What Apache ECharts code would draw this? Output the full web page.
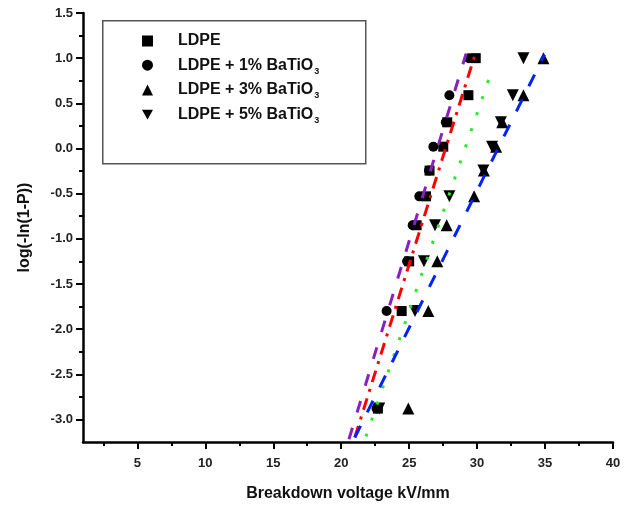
<!DOCTYPE html>
<html>
<head>
<meta charset="utf-8">
<script src="https://cdn.jsdelivr.net/npm/echarts@6/dist/echarts.min.js"></script>
<style>html,body{margin:0;padding:0;background:#fff}#c{width:634px;height:508px}</style>
</head>
<body>
<div id="c"></div>
<script>
// Weibull plot levels log(-ln(1-P))
const yLevels = [-2.88, -1.80, -1.25, -0.85, -0.53, -0.245, 0.02, 0.29, 0.59, 1.00];
// Breakdown voltages (kV/mm) per series
const ldpe  = [22.7, 24.45, 25.0, 25.55, 26.24, 26.5, 27.51, 27.8, 29.36, 29.9];
const bt1   = [22.6, 23.34, 24.85, 25.26, 25.75, 26.46, 26.78, 27.7, 27.96, 29.4];
const bt3   = [24.94, 26.41, 27.07, 27.76, 29.78, 30.5, 31.4, 31.85, 33.41, 34.88];
const bt5   = [22.8, 25.43, 26.09, 26.90, 27.96, 30.46, 31.1, 31.75, 32.63, 33.41];
// Fitted lines (end points)
const fitBt1  = [[20.57, -3.22], [29.19, 1.05]];
const fitLdpe = [[21.0, -3.2], [29.85, 1.04]];
const fitBt5  = [[21.82, -3.19], [31.03, 0.84]];
const fitBt3  = [[21.0, -3.2], [34.96, 1.04]];
// Ticks
const xTicks = [5, 10, 15, 20, 25, 30, 35, 40];
const xMinor = [2.5, 7.5, 12.5, 17.5, 22.5, 27.5, 32.5, 37.5];
const yTicks = [-3.0, -2.5, -2.0, -1.5, -1.0, -0.5, 0.0, 0.5, 1.0, 1.5];
const yMinor = [-2.75, -2.25, -1.75, -1.25, -0.75, -0.25, 0.25, 0.75, 1.25];
const names = ['LDPE', 'LDPE + 1% BaTiO', 'LDPE + 3% BaTiO', 'LDPE + 5% BaTiO'];

const FONT = 'Liberation Sans, Arial, sans-serif';
const pair = arr => arr.map((x, i) => [x, yLevels[i]]);
const downTri = 'path://M0,0L10,0L5,9Z';

const chart = echarts.init(document.getElementById('c'));
const scatterBase = {type: 'scatter', itemStyle: {color: '#000', opacity: 1}, z: 2};
const lineBase = (data, color, dash) => ({
  type: 'line', data: data, symbol: 'none', silent: true, z: 5,
  lineStyle: {color: color, width: 3, type: dash}
});

chart.setOption({
  animation: false,
  backgroundColor: '#fff',
  grid: {left: 83, right: 21, top: 13, bottom: 66},
  graphic: [{
    type: 'rect', left: 102, top: 20, z: 0,
    shape: {width: 263, height: 143},
    style: {fill: '#fff', stroke: '#555', lineWidth: 1.5}
  }],
  legend: {
    orient: 'vertical', left: 142, top: 31, padding: 0,
    itemWidth: 11, itemHeight: 11, itemGap: 3.7,
    itemStyle: {opacity: 1, color: '#000'},
    data: [
      {name: names[0], icon: 'rect'},
      {name: names[1], icon: 'circle'},
      {name: names[2], icon: 'triangle'},
      {name: names[3], icon: downTri}
    ],
    formatter: n => n === 'LDPE' ? '{a|LDPE}' : '{a|' + n + '}{s|3}',
    textStyle: {
      padding: [0, 0, 0, 20],
      lineHeight: 20,
      rich: {
        a: {fontSize: 16, fontWeight: 'bold', fontFamily: FONT, color: '#111', lineHeight: 20},
        s: {fontSize: 9, fontWeight: 'bold', fontFamily: FONT, color: '#111', lineHeight: 20, padding: [12, 0, 0, 1]}
      }
    }
  },
  xAxis: [{
    type: 'value', min: 1, max: 40, position: 'bottom',
    axisLine: {onZero: false, lineStyle: {color: '#000', width: 2.5}},
    axisTick: {customValues: xTicks, length: 7, lineStyle: {color: '#000', width: 2}},
    axisLabel: {customValues: xTicks, fontSize: 13, fontWeight: 'bold', fontFamily: FONT, color: '#222', margin: 15},
    splitLine: {show: false},
    name: 'Breakdown voltage kV/mm', nameLocation: 'middle', nameGap: 44,
    nameTextStyle: {fontSize: 16, fontWeight: 'bold', fontFamily: FONT, color: '#111'}
  }, {
    type: 'value', min: 1, max: 40, position: 'bottom', offset: 0,
    axisLine: {show: false, onZero: false},
    axisTick: {customValues: xMinor, length: 4, lineStyle: {color: '#000', width: 2}},
    axisLabel: {show: false},
    splitLine: {show: false}
  }],
  yAxis: [{
    type: 'value', min: -3.25, max: 1.5, position: 'left',
    axisLine: {onZero: false, lineStyle: {color: '#000', width: 2.5}},
    axisTick: {customValues: yTicks, length: 7, lineStyle: {color: '#000', width: 2}},
    axisLabel: {customValues: yTicks, fontSize: 13, fontWeight: 'bold', fontFamily: FONT, color: '#222', margin: 10,
      formatter: v => v.toFixed(1)},
    splitLine: {show: false},
    name: 'log(-ln(1-P))', nameLocation: 'middle', nameGap: 50,
    nameTextStyle: {fontSize: 16, fontWeight: 'bold', fontFamily: FONT, color: '#111'}
  }, {
    type: 'value', min: -3.25, max: 1.5, position: 'left', offset: 0,
    axisLine: {show: false, onZero: false},
    axisTick: {customValues: yMinor, length: 4, lineStyle: {color: '#000', width: 2}},
    axisLabel: {show: false},
    splitLine: {show: false}
  }],
  series: [
    Object.assign({}, scatterBase, {name: names[0], symbol: 'rect', symbolSize: 10, data: pair(ldpe)}),
    Object.assign({}, scatterBase, {name: names[1], symbol: 'circle', symbolSize: 10, data: pair(bt1)}),
    Object.assign({}, scatterBase, {name: names[2], symbol: 'triangle', symbolSize: 12, data: pair(bt3)}),
    Object.assign({}, scatterBase, {name: names[3], symbol: downTri, symbolSize: 12, data: pair(bt5)}),
    lineBase(fitBt1, '#8a1fc4', [12, 16]),
    lineBase(fitLdpe, '#ff0000', [12, 7, 3, 7]),
    lineBase(fitBt5, '#22ee22', [3, 14]),
    lineBase(fitBt3, '#0022ff', [13, 15])
  ]
});
</script>
</body>
</html>
